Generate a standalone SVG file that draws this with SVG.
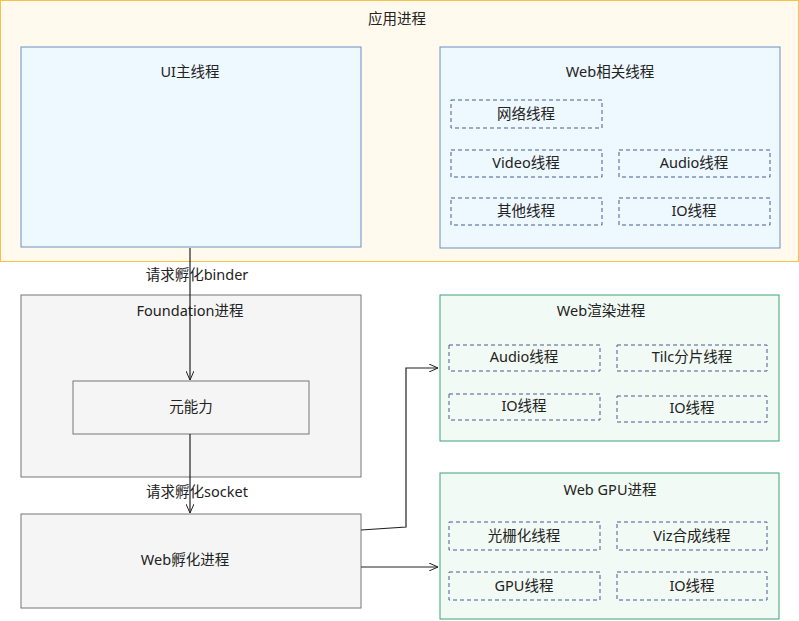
<svg xmlns="http://www.w3.org/2000/svg" width="799" height="621" viewBox="0 0 799 621">
<style>
text{font-family:"Noto Sans","Noto Sans CJK SC",sans-serif;font-size:14.5px;fill:#222;text-anchor:middle;dominant-baseline:middle}
.d{fill:none;stroke:#4a5a94;stroke-dasharray:4 3;stroke-width:1}
.c{fill:none;stroke:#222;stroke-width:1.2}
</style>
<defs><marker id="a" markerWidth="10" markerHeight="8" refX="9" refY="4" orient="auto" markerUnits="userSpaceOnUse"><path d="M0,0 L9,4 L0,8" fill="none" stroke="#222"/></marker></defs>
<g id="app"><rect x="0.5" y="0.5" width="798" height="261" fill="#fffaed" stroke="#f5c242"/><text x="397" y="20">应用进程</text></g>
<g id="ui"><rect x="21" y="47" width="340" height="200" fill="#eef8ff" stroke="#6c8ebf"/><text x="190" y="73">UI主线程</text></g>
<g id="web"><rect x="440" y="47" width="340" height="201" fill="#eef8ff" stroke="#6c8ebf"/><text x="610" y="73">Web相关线程</text>
<rect class="d" x="451" y="100" width="151" height="28"/><text x="526" y="115">网络线程</text>
<rect class="d" x="451" y="150" width="151" height="27"/><text x="526" y="164">Video线程</text>
<rect class="d" x="619" y="150" width="151" height="27"/><text x="694" y="164">Audio线程</text>
<rect class="d" x="451" y="198" width="151" height="27"/><text x="526" y="212">其他线程</text>
<rect class="d" x="619" y="198" width="151" height="27"/><text x="694" y="212">IO线程</text></g>
<g id="foundation"><rect x="21" y="295" width="340" height="182" fill="#f5f5f5" stroke="#777"/><text x="190" y="312">Foundation进程</text></g>
<g id="yuan"><rect x="73" y="381" width="236" height="53" fill="#f5f5f5" stroke="#777"/><text x="191" y="408">元能力</text></g>
<g id="fuhua"><rect x="21" y="514" width="340" height="94" fill="#f5f5f5" stroke="#777"/><text x="185" y="561">Web孵化进程</text></g>
<g id="render"><rect x="440" y="295" width="339" height="146" fill="#f2faf5" stroke="#3aa37a"/><text x="601" y="312">Web渲染进程</text>
<rect class="d" x="449" y="345" width="151" height="26"/><text x="524" y="358">Audio线程</text>
<rect class="d" x="617" y="345" width="150" height="26"/><text x="692" y="358">Tilc分片线程</text>
<rect class="d" x="449" y="394" width="151" height="26"/><text x="524" y="407">IO线程</text>
<rect class="d" x="617" y="396" width="150" height="26"/><text x="692" y="409">IO线程</text></g>
<g id="gpu"><rect x="440" y="473" width="339" height="146" fill="#f2faf5" stroke="#3aa37a"/><text x="610" y="491">Web GPU进程</text>
<rect class="d" x="449" y="522" width="151" height="28"/><text x="524" y="537">光栅化线程</text>
<rect class="d" x="617" y="522" width="150" height="28"/><text x="692" y="537">Viz合成线程</text>
<rect class="d" x="449" y="572" width="151" height="28"/><text x="524" y="587">GPU线程</text>
<rect class="d" x="617" y="572" width="150" height="28"/><text x="692" y="587">IO线程</text></g>
<g id="connectors">
<path class="c" d="M190,248 V380" marker-end="url(#a)"/>
<path class="c" d="M190,434 V513" marker-end="url(#a)"/>
<path class="c" d="M361,530 L406,527 V368 H438" marker-end="url(#a)"/>
<path class="c" d="M361,567 H438" marker-end="url(#a)"/>
<text x="197" y="276">请求孵化binder</text>
<text x="197" y="493">请求孵化socket</text>
</g>
</svg>
